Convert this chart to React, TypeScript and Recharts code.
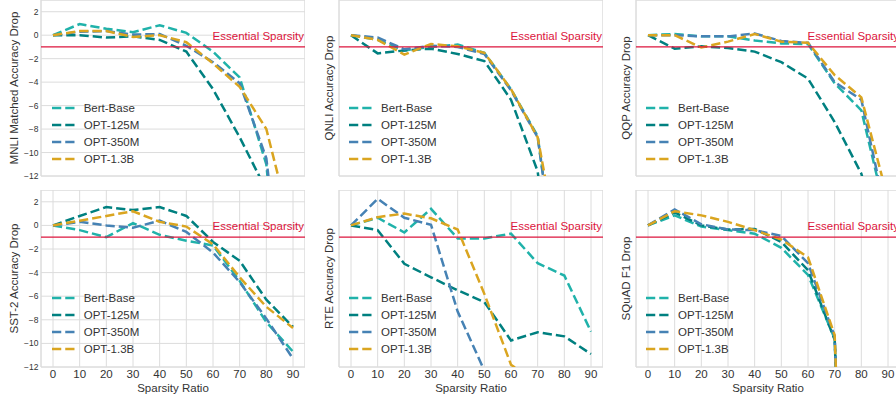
import {
  LineChart, Line, XAxis, YAxis, CartesianGrid,
  ReferenceLine, ReferenceArea, Legend
} from 'recharts';

const sparsity = [0, 10, 20, 30, 40, 50, 60, 70, 80, 90];
const xTicks = [0, 10, 20, 30, 40, 50, 60, 70, 80, 90];
const yTicks = [-12, -10, -8, -6, -4, -2, 0, 2];
const models = ['Bert-Base', 'OPT-125M', 'OPT-350M', 'OPT-1.3B'];
const colors = ['#20b2aa', '#008080', '#4682b4', '#daa520'];

// MNLI matched
const mnliBert = [0, 0.95, 0.55, 0.25, 0.85, 0.2, -1.4, -3.6, -11, -35];
const mnli125 = [0, 0, -0.2, -0.1, -0.4, -1.4, -4.6, -8.7, -13.2, -25];
const mnli350 = [0, 0.3, 0.35, 0.05, 0.1, -0.9, -2.3, -4.1, -10.5, -30];
const mnli13 = [0, 0.35, 0.35, -0.15, 0, -0.6, -2.4, -4.4, -8.0, -17];

// QNLI
const qnliBert = [0, -0.4, -1.3, -1.0, -0.8, -1.5, -4.6, -8.6, -25, -45];
const qnli125 = [0, -1.55, -1.3, -1.15, -1.6, -2.2, -5.5, -11.6, -30, -50];
const qnli350 = [0, -0.2, -1.2, -0.9, -1.0, -1.6, -4.7, -8.7, -25, -45];
const qnli13 = [0, -0.4, -1.65, -0.75, -0.95, -1.5, -4.6, -8.7, -21, -40];

// QQP
const qqpBert = [0, 0.1, -0.1, -0.1, -0.45, -0.7, -0.75, -4.1, -6.4, -16];
const qqp125 = [0, -1.15, -0.95, -1.1, -1.4, -2.3, -3.7, -7.4, -11.8, -20];
const qqp350 = [0, 0, -0.1, -0.1, 0.15, -0.5, -0.65, -4.0, -5.5, -16];
const qqp13 = [0, 0, -1.05, -0.55, 0.1, -0.55, -0.65, -3.4, -5.3, -14];

// SST-2
const sstBert = [0, -0.4, -1.0, 0.2, -0.8, -1.3, -1.7, -4.7, -8.2, -10.7];
const sst125 = [0, 0.8, 1.55, 1.3, 1.55, 0.8, -1.4, -3.0, -6.3, -8.6];
const sst350 = [0, 0.3, 0, -0.2, 0.4, -0.55, -2.3, -4.8, -7.9, -11.3];
const sst13 = [0, 0.4, 0.8, 1.2, 0.3, -0.1, -1.6, -4.4, -6.9, -8.7];

// RTE
const rteBert = [0, 0.65, -0.6, 1.4, -1.1, -1.1, -0.7, -3.2, -4.25, -9.0];
const rte125 = [0, -0.4, -3.25, -4.4, -5.5, -6.5, -9.75, -9.05, -9.4, -10.9];
const rte350 = [0, 2.25, 0.65, 0.05, -7.3, -12.3, -16, -17, -18, -19];
const rte13 = [0, 0.7, 1.0, 0.6, -0.35, -5.8, -11.8, -13.5, -15, -16];

// SQuAD F1
const squadBert = [0, 0.85, -0.1, -0.4, -0.7, -1.9, -4.2, -9.6, -70, -90];
const squad125 = [0, 1.1, 0, -0.35, -0.3, -1.4, -3.8, -9.7, -70, -90];
const squad350 = [0, 1.35, 0.1, -0.35, -0.4, -0.9, -3.2, -9.4, -70, -90];
const squad13 = [0, 1.2, 0.85, 0.3, -0.4, -1.2, -2.7, -9.3, -70, -90];

const FONT = '"Liberation Sans", Arial, sans-serif';
const TEXT = '#333333';
const GRID = '#dcdcdc';
const RED = '#dc143c';
const PLOT_W = 264;
const AXIS_W = 60;
const XAXIS_H = 34;

const fmtY = (v: number) => (v < 0 ? '\u2212' + Math.abs(v) : String(v));

function renderLegend() {
  return (
    <div style={{ fontFamily: FONT, fontSize: 11.5, color: TEXT, lineHeight: 'normal' }}>
      {models.map((m, i) => (
        <div key={m} style={{ display: 'flex', alignItems: 'center', height: 16.9 }}>
          <svg width={23} height={6}>
            <line x1={0} y1={3} x2={23} y2={3} stroke={colors[i]}
              strokeWidth={2.5} strokeDasharray="9.25 4" />
          </svg>
          <span style={{ marginLeft: 9, whiteSpace: 'nowrap' }}>{m}</span>
        </div>
      ))}
    </div>
  );
}

interface PanelProps {
  label: string;
  series: number[][];
  plotLeft: number;
  plotTop: number;
  plotH: number;
  yTicksOn: boolean;
  xTicksOn: boolean;
}

function Panel({ label, series, plotLeft, plotTop, plotH, yTicksOn, xTicksOn }: PanelProps) {
  const data = sparsity.map((x, i) => ({
    x,
    s0: series[0][i],
    s1: series[1][i],
    s2: series[2][i],
    s3: series[3][i],
  }));
  const labelGap = yTicksOn ? 23 : 6;

  return (
    <div style={{ position: 'absolute', left: plotLeft - AXIS_W, top: plotTop }}>
      <LineChart width={AXIS_W + PLOT_W} height={plotH + XAXIS_H} data={data}
        margin={{ top: 0, right: 0, bottom: 0, left: 0 }}>
        <CartesianGrid stroke={GRID} strokeWidth={1} />
        <ReferenceArea x1={-4.5} x2={94.5} y1={-12} y2={3}
          fill="none" stroke={GRID} strokeWidth={1} fillOpacity={0} />
        <XAxis type="number" dataKey="x" domain={[-4.5, 94.5]} ticks={xTicks}
          allowDataOverflow height={XAXIS_H} tickLine={false} axisLine={false}
          tickSize={0} tickMargin={3} interval={0}
          tick={xTicksOn ? { fontSize: 11.5, fill: TEXT, fontFamily: FONT } : false}
          label={xTicksOn ? {
            content: (p: any) => {
              const vb = p.viewBox;
              return (
                <text x={vb.x + vb.width / 2} y={vb.y + 24.7} textAnchor="middle"
                  fontSize={11.5} fill={TEXT} fontFamily={FONT}>Sparsity Ratio</text>
              );
            },
          } : undefined} />
        <YAxis type="number" domain={[-12, 3]} ticks={yTicks} allowDataOverflow
          width={AXIS_W} tickLine={false} axisLine={false} tickSize={0} tickMargin={2.5}
          interval={0} tickFormatter={fmtY}
          tick={yTicksOn ? { fontSize: 8.5, fill: TEXT, fontFamily: FONT } : false}
          label={{
            content: (p: any) => {
              const vb = p.viewBox;
              const cx = vb.x + vb.width - labelGap;
              const cy = vb.y + vb.height / 2;
              return (
                <text x={cx} y={cy} transform={`rotate(-90 ${cx} ${cy})`} textAnchor="middle"
                  fontSize={11.5} fill={TEXT} fontFamily={FONT}>{label}</text>
              );
            },
          }} />
        {models.map((m, i) => (
          <Line key={m} type="linear" dataKey={`s${i}`} name={m} stroke={colors[i]}
            strokeWidth={2.5} strokeDasharray="9.25 4" dot={false} activeDot={false}
            isAnimationActive={false} />
        ))}
        <ReferenceLine y={-1} stroke={RED} strokeWidth={1.3}
          label={{
            content: (p: any) => {
              const vb = p.viewBox;
              return (
                <text x={vb.x + vb.width - 1} y={vb.y - 7.4} textAnchor="end"
                  fontSize={11.5} fill={RED} fontFamily={FONT}>Essential Sparsity</text>
              );
            },
          }} />
        <Legend layout="vertical" align="center" verticalAlign="middle"
          content={renderLegend}
          wrapperStyle={{ left: AXIS_W + 10.4, top: 100, width: 'auto', height: 'auto' }} />
      </LineChart>
    </div>
  );
}

export default function App() {
  return (
    <div style={{
      position: 'fixed', left: 0, top: 0, width: 896, height: 398,
      overflow: 'hidden', background: '#ffffff', fontFamily: FONT,
    }}>
      <Panel label="MNLI Matched Accuracy Drop" series={[mnliBert, mnli125, mnli350, mnli13]}
        plotLeft={41.3} plotTop={0} plotH={176} yTicksOn xTicksOn={false} />
      <Panel label="QNLI Accuracy Drop" series={[qnliBert, qnli125, qnli350, qnli13]}
        plotLeft={338.7} plotTop={0} plotH={176} yTicksOn={false} xTicksOn={false} />
      <Panel label="QQP Accuracy Drop" series={[qqpBert, qqp125, qqp350, qqp13]}
        plotLeft={635.7} plotTop={0} plotH={176} yTicksOn={false} xTicksOn={false} />
      <Panel label="SST-2 Accuracy Drop" series={[sstBert, sst125, sst350, sst13]}
        plotLeft={41.3} plotTop={190} plotH={177} yTicksOn xTicksOn />
      <Panel label="RTE Accuracy Drop" series={[rteBert, rte125, rte350, rte13]}
        plotLeft={338.7} plotTop={190} plotH={177} yTicksOn={false} xTicksOn />
      <Panel label="SQuAD F1 Drop" series={[squadBert, squad125, squad350, squad13]}
        plotLeft={635.7} plotTop={190} plotH={177} yTicksOn={false} xTicksOn />
    </div>
  );
}
